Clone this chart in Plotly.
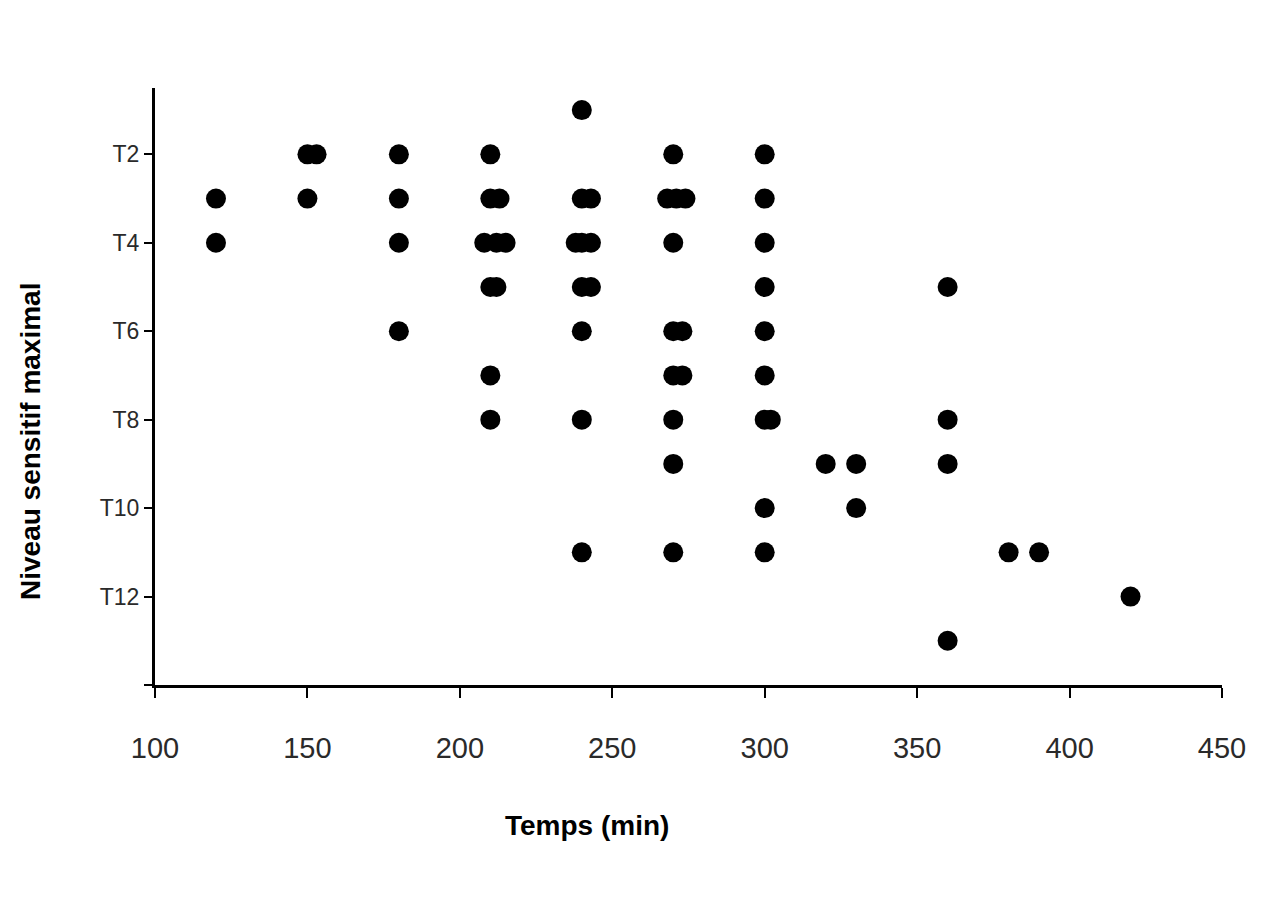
import plotly.graph_objects as go

# Sensory level categories (numeric level -> label)
levels = [1, 2, 3, 4, 5, 6, 7, 8, 9, 10, 11, 12, 13]
tick_levels = [2, 4, 6, 8, 10, 12, 14]
tick_labels = ["T2", "T4", "T6", "T8", "T10", "T12", ""]
x_ticks = [100, 150, 200, 250, 300, 350, 400, 450]

# Time (min) of each patient, grouped by maximal sensory level
t1 = [240]
t2 = [150, 153, 180, 210, 270, 300]
t3 = [120, 150, 180, 210, 213, 240, 243, 268, 271, 274, 300]
t4 = [120, 180, 208, 212, 215, 238, 240, 243, 270, 300]
t5 = [210, 212, 240, 243, 300, 360]
t6 = [180, 240, 270, 273, 300]
t7 = [210, 270, 273, 300]
t8 = [210, 240, 270, 300, 302, 360]
t9 = [270, 320, 330, 360]
t10 = [300, 330]
t11 = [240, 270, 300, 380, 390]
t12 = [420]
t13 = [360]

groups = [t1, t2, t3, t4, t5, t6, t7, t8, t9, t10, t11, t12, t13]
xs, ys = [], []
for lvl, times in zip(levels, groups):
    xs.extend(times)
    ys.extend([lvl] * len(times))

FONT = "Arial, Liberation Sans, sans-serif"

fig = go.Figure()
fig.add_trace(go.Scatter(
    x=xs, y=ys, mode="markers",
    marker=dict(color="#000000", size=20, line=dict(width=0)),
    showlegend=False, hoverinfo="x+y",
))

fig.update_layout(
    width=1262, height=887,
    margin=dict(l=147, r=48, t=80, b=210),
    paper_bgcolor="white", plot_bgcolor="white",
    font=dict(family=FONT, color="#222222"),
    xaxis=dict(
        range=[100, 450], tickvals=x_ticks,
        ticks="outside", ticklen=10, tickwidth=2, tickcolor="#000",
        showline=True, linecolor="#000", linewidth=3,
        showgrid=False, zeroline=False,
        tickfont=dict(size=29, color="#2a2a2a", family=FONT),
        ticklabelstandoff=25,
    ),
    yaxis=dict(
        range=[14, 0.5], tickvals=tick_levels, ticktext=tick_labels,
        ticks="outside", ticklen=8, tickwidth=2, tickcolor="#000",
        showline=True, linecolor="#000", linewidth=3,
        showgrid=False, zeroline=False,
        tickfont=dict(size=23, color="#2a2a2a", family=FONT),
        ticklabelstandoff=0,
    ),
    annotations=[
        dict(text="<b>Temps (min)</b>", xref="paper", yref="paper",
             x=(587 - 155) / 1067, y=(685 - 825) / 597,
             xanchor="center", yanchor="middle", showarrow=False,
             font=dict(size=28, color="#000", family=FONT)),
        dict(text="<b>Niveau sensitif maximal</b>", xref="paper", yref="paper",
             x=(30 - 155) / 1067, y=(685 - 442) / 597, textangle=-90,
             xanchor="center", yanchor="middle", showarrow=False,
             font=dict(size=28, color="#000", family=FONT)),
    ],
)

fig.write_html("out.html")
